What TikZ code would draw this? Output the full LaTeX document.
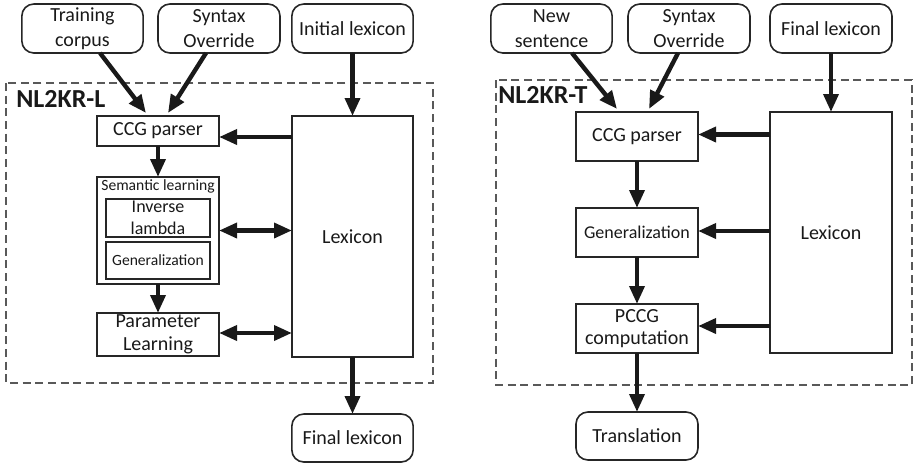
\documentclass[tikz,border=0pt]{standalone}
\usepackage{fontspec}
\setmainfont{Carlito}
\usetikzlibrary{arrows.meta,calc}
\begin{document}
\begin{tikzpicture}[x=0.75pt,y=-0.75pt,
  txt/.style={text=black!90, align=center, inner sep=0pt, outer sep=0pt},
  boxbase/.style={txt, draw=black!85, line width=1.2pt},
  topbox/.style={boxbase, rounded corners=9pt, minimum width=91pt, minimum height=36.75pt, font=\fontsize{15}{18.5}\selectfont},
  sqbox/.style={boxbase, minimum width=91.5pt, font=\fontsize{15}{17}\selectfont},
  small/.style={font=\fontsize{13.5}{16.5}\selectfont},
  tiny/.style={font=\fontsize{11.7}{13}\selectfont},
  arr/.style={line width=3.3pt, draw=black!90, -{Triangle[length=13.5pt,width=11pt]}},
  darr/.style={line width=3.3pt, draw=black!90, {Triangle[length=13.5pt,width=11pt]}-{Triangle[length=13.5pt,width=11pt]}},
  frame/.style={draw=black!65, line width=0.8pt, dash pattern=on 6pt off 3.5pt},
  title/.style={font=\bfseries\fontsize{19.5}{20}\selectfont, text=black!90, inner sep=0pt, anchor=west}
]
\useasboundingbox (0,0) rectangle (914,465);

% ---------- left panel ----------
\draw[frame] (6,83) rectangle (433,383);
\node[title] (tL) at (16,99) {NL2KR-L};

\node[topbox] (tc) at (82.5,28.5) {Training\\corpus};
\node[topbox, minimum width=91.5pt] (soL) at (219,28.5) {Syntax\\Override};
\node[topbox] (ilex) at (352.5,28.5) {Initial lexicon};

\node[sqbox, minimum height=22.5pt] (ccgL) at (158,131) {CCG parser};
\node[sqbox, minimum width=90.75pt, minimum height=180.75pt] (lexL) at (352.5,236.5) {Lexicon};
\node[boxbase, minimum width=91.5pt, minimum height=80.25pt] (sem) at (158,230.5) {};
\node[txt, tiny] (semt) at (158,186) {Semantic learning};
\node[boxbase, small, minimum width=78pt, minimum height=28.5pt] (inv) at (158,218) {Inverse\\lambda};
\node[boxbase, tiny, minimum width=78pt, minimum height=27.75pt] (genL) at (158,260.5) {Generalization};
\node[sqbox, minimum height=32.25pt] (param) at (158,334.5) {Parameter\\Learning};
\node[topbox, minimum height=36pt] (finL) at (352.5,438) {Final lexicon};

\draw[arr] ($(tc.south)+(17.5,0)$) -- ($(ccgL.north)+(-12,-3)$);
\draw[arr] ($(soL.south)+(-13,0)$) -- ($(ccgL.north)+(10,-3)$);
\draw[arr] (ilex.south) -- (ilex.south |- lexL.north);
\draw[arr] ($(ccgL.east -| lexL.west)+(0,6)$) -- ($(ccgL.east)+(0,6)$);
\draw[arr] (ccgL.south) -- (sem.north);
\draw[darr] (sem.east) -- (sem.east -| lexL.west);
\draw[arr] (sem.south) -- (param.north);
\draw[darr] ($(param.east)+(0,-1.5)$) -- ($(param.east -| lexL.west)+(0,-1.5)$);
\draw[arr] (lexL.south) -- (finL.north);

% ---------- right panel ----------
\draw[frame] (496,80) rectangle (912,385);
\node[title] (tR) at (498,95) {NL2KR-T};

\node[topbox] (ns) at (551.5,28.5) {New\\sentence};
\node[topbox, minimum width=91.5pt] (soR) at (689,28.5) {Syntax\\Override};
\node[topbox, minimum width=91.5pt] (flexR) at (831,28.5) {Final lexicon};

\node[sqbox, minimum height=36.75pt] (ccgR) at (637,136.5) {CCG parser};
\node[sqbox, minimum height=180.75pt] (lexR) at (831,232.5) {Lexicon};
\node[sqbox, small, minimum height=36.75pt] (genR) at (637,232.5) {Generalization};
\node[sqbox, minimum height=36.75pt] (pccg) at (637,328.5) {PCCG\\computation};
\node[topbox, minimum width=91.5pt, minimum height=36pt] (trans) at (637,436) {Translation};

\draw[arr] ($(ns.south)+(20.5,0)$) -- ($(ccgR.north)+(-20,-3)$);
\draw[arr] ($(soR.south)+(-11,0)$) -- ($(ccgR.north)+(12,-3)$);
\draw[arr] (flexR.south) -- (lexR.north);
\draw[arr] ($(ccgR.east -| lexR.west)+(0,-2)$) -- ($(ccgR.east)+(0,-2)$);
\draw[arr] ($(genR.east -| lexR.west)+(0,-1.5)$) -- ($(genR.east)+(0,-1.5)$);
\draw[arr] ($(pccg.east -| lexR.west)+(0,-2.5)$) -- ($(pccg.east)+(0,-2.5)$);
\draw[arr] (ccgR.south) -- (genR.north);
\draw[arr] (genR.south) -- (pccg.north);
\draw[arr] (pccg.south) -- (trans.north);
\end{tikzpicture}
\end{document}
